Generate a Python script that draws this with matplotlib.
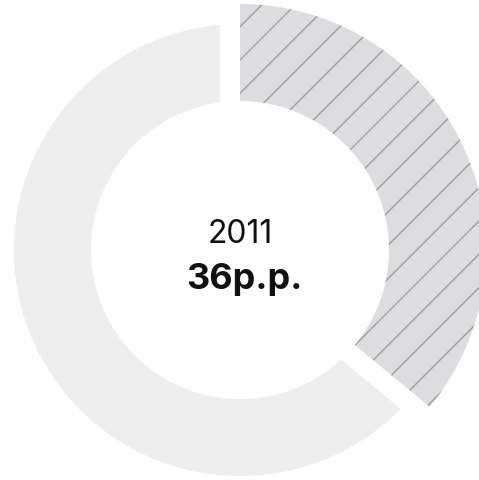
import matplotlib
matplotlib.use("Agg")

import numpy as np
import matplotlib.pyplot as plt
from matplotlib.patches import Polygon

# share of the highlighted slice (percentage points)
year_label = "2011"
share = 36
rest = 100 - share
value_label = f"{share}p.p."

plt.rcParams["hatch.linewidth"] = 1.0

W, H, DPI = 479, 481, 100
fig = plt.figure(figsize=(W / DPI, H / DPI), dpi=DPI)
ax = fig.add_axes([0, 0, 1, 1])
ax.set_xlim(0, W)
ax.set_ylim(H, 0)
ax.set_aspect("equal")
ax.axis("off")

cx, cy = 240, 251
r_in = 149
r_out = 226
r_out_hi = 246
gap = 20


def ring_points(a0, a1, r0, r1, n=200):
    # angles in degrees, math convention; y is flipped for pixel coords
    t_out = np.radians(np.linspace(a0, a1, n))
    t_in = t_out[::-1]
    xs = np.concatenate([cx + r1 * np.cos(t_out), cx + r0 * np.cos(t_in)])
    ys = np.concatenate([cy - r1 * np.sin(t_out), cy - r0 * np.sin(t_in)])
    return np.column_stack([xs, ys])


def offset_ring(a0, a1):
    # ring segment whose straight edges sit `gap` px inside the radial lines
    do = np.degrees(np.arcsin(gap / r_out))
    di = np.degrees(np.arcsin(gap / r_in))
    t_out = np.radians(np.linspace(a0 + do, a1 - do, 300))
    t_in = np.radians(np.linspace(a1 - di, a0 + di, 300))
    xs = np.concatenate([cx + r_out * np.cos(t_out), cx + r_in * np.cos(t_in)])
    ys = np.concatenate([cy - r_out * np.sin(t_out), cy - r_in * np.sin(t_in)])
    return np.column_stack([xs, ys])


start = 90.0
end_hi = start - 360.0 * share / (share + rest)

# highlighted slice: clockwise from 12 o'clock, pushed outward
hi = ring_points(end_hi, start, r_in, r_out_hi)
ax.add_patch(Polygon(hi, closed=True, facecolor="#dcdddf", edgecolor="#9c9c9c",
                     lw=0, hatch="/", zorder=2))

# remaining slice
ax.add_patch(Polygon(offset_ring(start, end_hi + 360.0), closed=True,
                     facecolor="#eeeeee", edgecolor="none", zorder=1))

ax.text(cx, 235, year_label, ha="center", va="center", fontsize=23,
        family="Inter", color="#111111")
ax.text(cx + 4, 280, value_label, ha="center", va="center", fontsize=26,
        family="Inter", fontweight="bold", color="#111111")

fig.savefig("out.png", dpi=DPI, facecolor="white")
